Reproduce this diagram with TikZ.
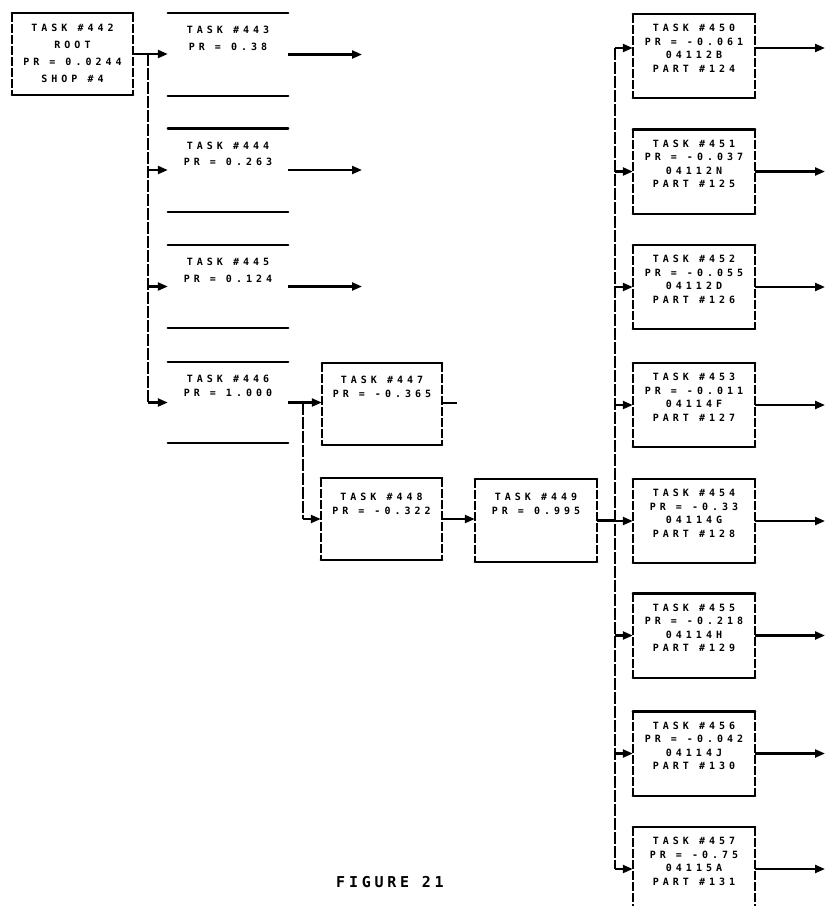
\documentclass[tikz,border=0pt]{standalone}
\usepackage{fontspec}
\usetikzlibrary{arrows.meta}
\newfontfamily\boxfont[LetterSpace=40]{DejaVu Sans Mono}
\newfontfamily\figfont[LetterSpace=25]{DejaVu Sans Mono}
\newcommand\frameit[1]{%
  \draw[hline] (#1.north west) -- (#1.north east) (#1.south west) -- (#1.south east);
  \draw[vside] (#1.north west) -- (#1.south west) (#1.north east) -- (#1.south east);}
\newcommand\openit[1]{%
  \draw[hline] (#1.north west) -- (#1.north east) (#1.south west) -- (#1.south east);}
\tikzset{
  tbox/.style={draw=none, inner sep=0pt, minimum width=121pt, minimum height=83pt},
  rbox/.style={draw=none, inner sep=0pt, minimum width=122pt, minimum height=84pt},
  hline/.style={line width=2.4pt, line cap=round},
  vside/.style={line width=1.5pt, dash pattern=on 9pt off 2pt},
  conn/.style={line width=2.2pt},
  arr/.style={conn, -{Triangle[length=10pt,width=8pt]}},
  bus/.style={line width=1.6pt, dash pattern=on 12pt off 2pt},
  txt/.style={font=\boxfont\bfseries\fontsize{10}{16.5}\selectfont, align=center, anchor=north, inner sep=0pt},
  rtxt/.style={font=\boxfont\bfseries\fontsize{10}{13.5}\selectfont, align=center, anchor=north, inner sep=0pt}
}
\begin{document}
\begin{tikzpicture}[x=1pt,y=-1pt]
\useasboundingbox (0,0) rectangle (826,906);
\fill[white] (0,0) rectangle (826,906);

% left column
\node[tbox, minimum height=82pt] (t442) at (72.5,54) {};
\node[tbox, minimum width=120pt] (t443) at (228,54.5) {};
\node[tbox, minimum width=120pt] (t444) at (228,170) {};
\node[tbox, minimum width=120pt] (t445) at (228,286.5) {};
\node[tbox, minimum width=120pt, minimum height=81pt] (t446) at (228,402.5) {};
\node[tbox, minimum width=120pt, minimum height=82pt] (t447) at (382,404) {};
\node[tbox, minimum height=82pt] (t448) at (381.5,519) {};
\node[tbox, minimum width=122pt] (t449) at (536,520.5) {};

% right column
\node[rbox] (t450) at (694,56) {};
\node[rbox] (t451) at (694,171.5) {};
\node[rbox] (t452) at (694,287) {};
\node[rbox] (t453) at (694,405) {};
\node[rbox] (t454) at (694,521) {};
\node[rbox] (t455) at (694,635.5) {};
\node[rbox] (t456) at (694,753.5) {};
\node[rbox] (t457) at (694,869) {};
\coordinate (bot) at (0,906);

% frames
\frameit{t442}
\openit{t443}\openit{t444}\openit{t445}\openit{t446}
\frameit{t447}\frameit{t448}\frameit{t449}
\frameit{t450}\frameit{t451}\frameit{t452}\frameit{t453}
\frameit{t454}\frameit{t455}\frameit{t456}
\draw[hline] (t457.north west) -- (t457.north east);
\draw[vside] (t457.north west) -- (t457.north west |- bot) (t457.north east) -- (t457.north east |- bot);

% texts
\node[txt, font=\boxfont\bfseries\fontsize{10}{17}\selectfont] (x442) at ([yshift=-11.5pt]t442.north) {TASK \#442\\ROOT\\PR = 0.0244\\SHOP \#4};
\node[txt] (x443) at ([yshift=-13.5pt]t443.north) {TASK \#443\\PR = 0.38};
\node[txt] (x444) at ([yshift=-13.5pt]t444.north) {TASK \#444\\PR = 0.263};
\node[txt] (x445) at ([yshift=-13.5pt]t445.north) {TASK \#445\\PR = 0.124};
\node[txt, font=\boxfont\bfseries\fontsize{10}{14}\selectfont] (x446) at ([yshift=-13.5pt]t446.north) {TASK \#446\\PR = 1.000};
\node[txt, font=\boxfont\bfseries\fontsize{10}{13.5}\selectfont] (x447) at ([yshift=-13.5pt]t447.north) {TASK \#447\\PR = -0.365};
\node[txt, font=\boxfont\bfseries\fontsize{10}{13.5}\selectfont] (x448) at ([yshift=-15.5pt]t448.north) {TASK \#448\\PR = -0.322};
\node[txt, font=\boxfont\bfseries\fontsize{10}{13.5}\selectfont] (x449) at ([yshift=-14.5pt]t449.north) {TASK \#449\\PR = 0.995};

\node[rtxt] (x450) at ([yshift=-10.5pt]t450.north) {TASK \#450\\PR = -0.061\\04112B\\PART \#124};
\node[rtxt] (x451) at ([yshift=-10.5pt]t451.north) {TASK \#451\\PR = -0.037\\04112N\\PART \#125};
\node[rtxt] (x452) at ([yshift=-10.5pt]t452.north) {TASK \#452\\PR = -0.055\\04112D\\PART \#126};
\node[rtxt] (x453) at ([yshift=-10.5pt]t453.north) {TASK \#453\\PR = -0.011\\04114F\\PART \#127};
\node[rtxt] (x454) at ([yshift=-10.5pt]t454.north) {TASK \#454\\PR = -0.33\\04114G\\PART \#128};
\node[rtxt] (x455) at ([yshift=-10.5pt]t455.north) {TASK \#455\\PR = -0.218\\04114H\\PART \#129};
\node[rtxt] (x456) at ([yshift=-10.5pt]t456.north) {TASK \#456\\PR = -0.042\\04114J\\PART \#130};
\node[rtxt] (x457) at ([yshift=-10.5pt]t457.north) {TASK \#457\\PR = -0.75\\04115A\\PART \#131};

% left bus
\coordinate (busL) at (148,0);
\draw[arr] (t442.east) -- (t442.east -| t443.west);
\draw[bus] (t442.east -| busL) -- (t446.west -| busL);
\draw[arr] (t444.west -| busL) -- (t444.west);
\draw[arr] (t445.west -| busL) -- (t445.west);
\draw[arr] (t446.west -| busL) -- (t446.west);

% outputs of 443-445
\coordinate (oL) at (362,0);
\draw[arr] (t443.east) -- (t443.east -| oL);
\draw[arr] (t444.east) -- (t444.east -| oL);
\draw[arr] (t445.east) -- (t445.east -| oL);

% 446 -> 447, 448
\coordinate (busM) at (303,0);
\draw[arr] (t446.east) -- (t446.east -| t447.west);
\draw[bus] (t446.east -| busM) -- (t448.west -| busM);
\draw[arr] (t448.west -| busM) -- (t448.west);
\coordinate (s447) at (457,403);
\draw[conn] (t447.east |- s447) -- (s447);

% 448 -> 449
\draw[arr] (t448.east) -- (t448.east -| t449.west);

% right bus
\coordinate (busR) at (615,0);
\coordinate (b450) at (615,48);
\draw[conn] (t449.east) -- (t449.east -| busR);
\draw[bus] (b450) -- (t457.west -| busR);
\draw[arr] (b450) -- (b450 -| t450.west);
\draw[arr] (t451.west -| busR) -- (t451.west);
\draw[arr] (t452.west -| busR) -- (t452.west);
\draw[arr] (t453.west -| busR) -- (t453.west);
\draw[arr] (t454.west -| busR) -- (t454.west);
\draw[arr] (t455.west -| busR) -- (t455.west);
\draw[arr] (t456.west -| busR) -- (t456.west);
\draw[arr] (t457.west -| busR) -- (t457.west);

% outputs on the right
\coordinate (oR) at (825,0);
\draw[arr] (b450 -| t450.east) -- (b450 -| oR);
\draw[arr] (t451.east) -- (t451.east -| oR);
\draw[arr] (t452.east) -- (t452.east -| oR);
\draw[arr] (t453.east) -- (t453.east -| oR);
\draw[arr] (t454.east) -- (t454.east -| oR);
\draw[arr] (t455.east) -- (t455.east -| oR);
\draw[arr] (t456.east) -- (t456.east -| oR);
\draw[arr] (t457.east) -- (t457.east -| oR);

% caption
\node[font=\figfont\bfseries\fontsize{15}{15}\selectfont, inner sep=0pt] (cap) at (390,882) {FIGURE 21};
\end{tikzpicture}
\end{document}
